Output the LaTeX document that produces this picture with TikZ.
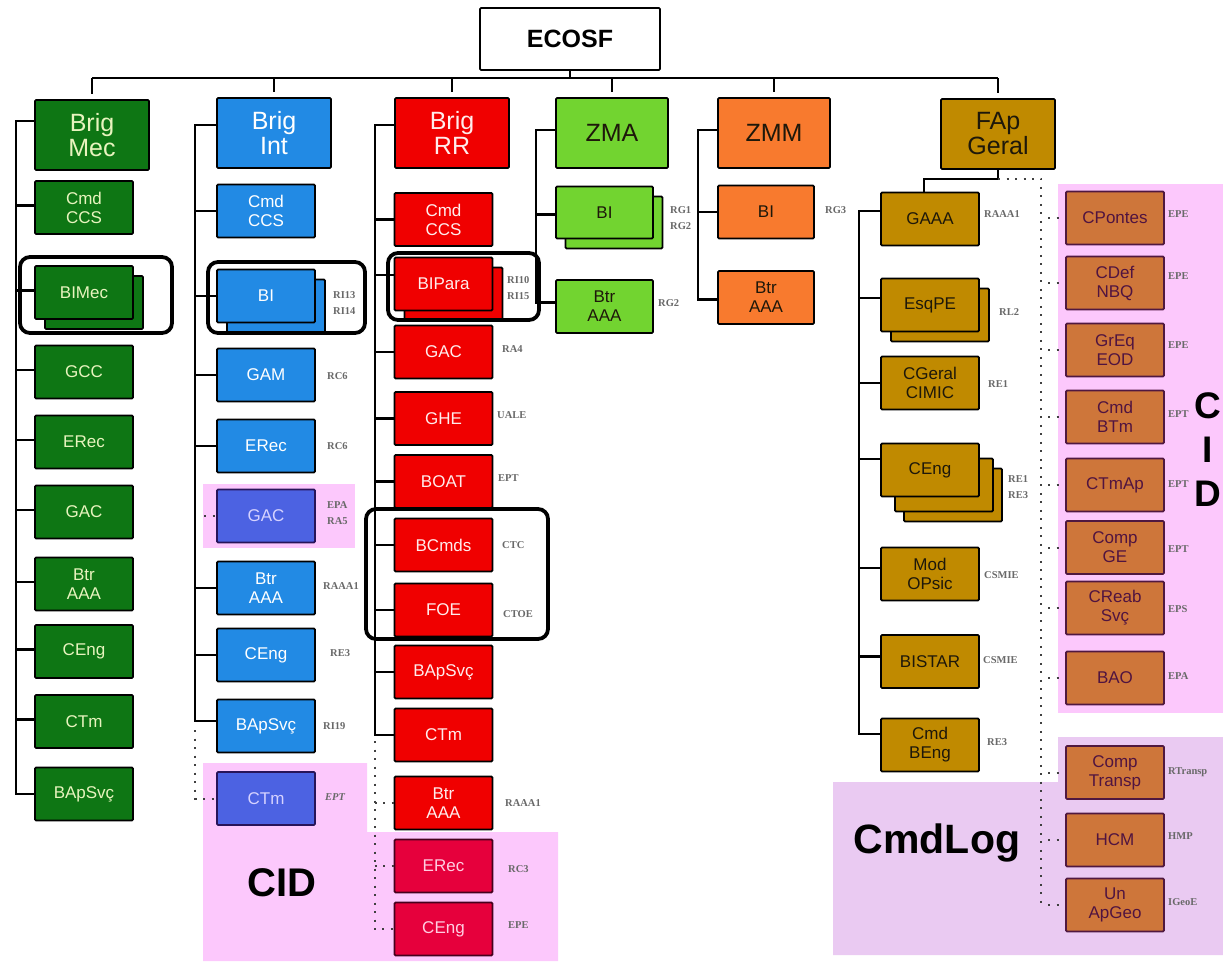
\documentclass[tikz,border=0pt]{standalone}
\usepackage{fontspec}
\setmainfont{Liberation Sans}
\newfontfamily\lblfont{Liberation Serif}
\usetikzlibrary{calc}
\definecolor{cgreen}{RGB}{14,118,20}
\definecolor{cgreentx}{RGB}{232,244,190}
\definecolor{cblue}{RGB}{34,138,228}
\definecolor{cpblue}{RGB}{76,98,226}
\definecolor{cpbluetx}{RGB}{214,210,255}
\definecolor{cpblueln}{RGB}{40,20,90}
\definecolor{cred}{RGB}{240,0,0}
\definecolor{credtx}{RGB}{255,236,236}
\definecolor{ccrim}{RGB}{230,0,60}
\definecolor{ccrimtx}{RGB}{255,205,225}
\definecolor{ccrimln}{RGB}{70,0,30}
\definecolor{clgreen}{RGB}{114,212,48}
\definecolor{corange}{RGB}{248,122,46}
\definecolor{cgold}{RGB}{192,138,0}
\definecolor{cbrown}{RGB}{206,118,58}
\definecolor{cbrownln}{RGB}{80,24,64}
\definecolor{cbrowntx}{RGB}{80,20,64}
\definecolor{cpink}{RGB}{252,200,252}
\definecolor{clav}{RGB}{234,202,242}
\definecolor{labgray}{RGB}{105,105,105}
\definecolor{darktx}{RGB}{30,24,10}
\newcommand\sbx{\fontsize{17}{19}\selectfont}
\newcommand\bbx{\fontsize{25}{25}\selectfont}
\newcommand\lb{\lblfont\bfseries\fontsize{10.5}{16}\selectfont}
\tikzset{
  bx/.style={draw=black, line width=1.8pt, rounded corners=1.2pt, minimum width=98pt, minimum height=53pt, inner sep=0pt, align=center, font=\sbx},
  big/.style={bx, minimum width=114pt, minimum height=70pt, font=\bbx},
  gr/.style={fill=cgreen, text=cgreentx},
  bl/.style={fill=cblue, text=white},
  pb/.style={fill=cpblue, text=cpbluetx, draw=cpblueln},
  rd/.style={fill=cred, text=credtx},
  cr/.style={fill=ccrim, text=ccrimtx, draw=ccrimln},
  lg/.style={fill=clgreen, text=darktx},
  og/.style={fill=corange, text=darktx},
  gd/.style={fill=cgold, text=darktx},
  bw/.style={fill=cbrown, text=cbrowntx, draw=cbrownln},
  conn/.style={draw=black, line width=2.4pt},
  dotline/.style={draw=black!75, line width=2pt, dash pattern=on 2pt off 6.5pt},
  hl/.style={draw=black, line width=3.8pt, rounded corners=10pt},
  lab/.style={anchor=west, inner sep=0pt, font=\lb, text=labgray, align=left},
  bigtx/.style={inner sep=0pt, text=black, align=center}
}
\begin{document}
\begin{tikzpicture}[x=1pt,y=-1pt]
\path[use as bounding box, fill=white] (0,0) rectangle (1223,961);
\clip (0,0) rectangle (1223,961);
% background regions
\fill[cpink] (203,484) rectangle (355,548);
\fill[cpink] (203,763) -- (367,763) -- (367,832) -- (558,832) -- (558,961) -- (203,961) -- cycle;
\fill[cpink] (1058,184) rectangle (1223,713);
\fill[clav] (833,782) -- (1058,782) -- (1058,737) -- (1223,737) -- (1223,955) -- (833,955) -- cycle;
\node[bigtx, font=\fontsize{40}{40}\selectfont\bfseries] (cidA) at (282,883) {CID};
\node[bigtx, font=\fontsize{41}{41}\selectfont\bfseries] (cmdlog) at (937,843) {CmdLog};
\node[bigtx, font=\fontsize{37}{44}\selectfont\bfseries] (cidB) at (1208,450) {C\\I\\D};

% top
\node[bx, fill=white, minimum width=180pt, minimum height=62pt, font=\fontsize{25}{25}\selectfont\bfseries, text=black] (ecosf) at (570,39) {ECOSF};

% column 1
\node[big, gr] (bm) at (92,135) {Brig\\Mec};
\node[bx, gr] (c1cmd) at (84,207.5) {Cmd\\CCS};
\node[bx, gr] (c1biB) at (94,302.5) {};
\node[bx, gr] (c1bi) at (84,292.5) {BIMec};
\node[bx, gr] (c1gcc) at (84,372) {GCC};
\node[bx, gr] (c1erec) at (84,442) {ERec};
\node[bx, gr] (c1gac) at (84,512) {GAC};
\node[bx, gr] (c1btr) at (84,584) {Btr\\AAA};
\node[bx, gr] (c1ceng) at (84,651.5) {CEng};
\node[bx, gr] (c1ctm) at (84,721.5) {CTm};
\node[bx, gr] (c1bap) at (84,794) {BApSvç};

% column 2
\node[big, bl] (bint) at (274,133) {Brig\\Int};
\node[bx, bl] (c2cmd) at (266,211) {Cmd\\CCS};
\node[bx, bl] (c2biB) at (276,306) {};
\node[bx, bl] (c2bi) at (266,296) {BI};
\node[bx, bl] (c2gam) at (266,375) {GAM};
\node[bx, bl] (c2erec) at (266,446) {ERec};
\node[bx, pb] (c2gac) at (266,516) {GAC};
\node[bx, bl] (c2btr) at (266,588) {Btr\\AAA};
\node[bx, bl] (c2ceng) at (266,655) {CEng};
\node[bx, bl] (c2bap) at (266,726) {BApSvç};
\node[bx, pb] (c2ctm) at (266,798.5) {CTm};
\node[lab] (l1) at (333,303) {RI13\\RI14};
\node[lab] (l2) at (327,376) {RC6};
\node[lab] (l3) at (327,446) {RC6};
\node[lab] (l4) at (327,513) {EPA\\RA5};
\node[lab] (l5) at (323,586) {RAAA1};
\node[lab] (l6) at (330,653) {RE3};
\node[lab] (l7) at (323,726) {RI19};
\node[lab] (l8) at (325,797) {\itshape EPT};

% column 3
\node[big, rd] (brr) at (452,133) {Brig\\RR};
\node[bx, rd] (c3cmd) at (443.5,219.5) {Cmd\\CCS};
\node[bx, rd] (c3biB) at (453.5,294) {};
\node[bx, rd] (c3bi) at (443.5,284) {BIPara};
\node[bx, rd] (c3gac) at (443.5,352) {GAC};
\node[bx, rd] (c3ghe) at (443.5,418.5) {GHE};
\node[bx, rd] (c3boat) at (443.5,481.5) {BOAT};
\node[bx, rd] (c3bcmds) at (443.5,545) {BCmds};
\node[bx, rd] (c3foe) at (443.5,610) {FOE};
\node[bx, rd] (c3bap) at (443.5,672) {BApSvç};
\node[bx, rd] (c3ctm) at (443.5,735) {CTm};
\node[bx, rd] (c3btr) at (443.5,803) {Btr\\AAA};
\node[bx, cr] (c3erec) at (443.5,866) {ERec};
\node[bx, cr] (c3ceng) at (443.5,929) {CEng};
\node[lab] (l9) at (507,288) {RI10\\RI15};
\node[lab] (l10) at (502,349) {RA4};
\node[lab] (l11) at (497,415) {UALE};
\node[lab] (l12) at (498,478) {EPT};
\node[lab] (l13) at (502,545) {CTC};
\node[lab] (l14) at (503,614) {CTOE};
\node[lab] (l15) at (505,803) {RAAA1};
\node[lab] (l16) at (508,869) {RC3};
\node[lab] (l17) at (508,925) {EPE};

% column 4
\node[big, lg, minimum width=112pt] (zma) at (612,133) {ZMA};
\node[bx, lg, minimum width=97pt, minimum height=52pt] (c4biB) at (614,222.5) {};
\node[bx, lg, minimum width=97pt, minimum height=52pt] (c4bi) at (604.5,212.5) {BI};
\node[bx, lg, minimum width=97pt] (c4btr) at (604.5,306.5) {Btr\\AAA};
\node[lab] (l18) at (670,218) {RG1\\RG2};
\node[lab] (l19) at (658,303) {RG2};

% column 5
\node[big, og, minimum width=112pt] (zmm) at (774,133) {ZMM};
\node[bx, og, minimum width=96pt] (c5bi) at (766,212) {BI};
\node[bx, og, minimum width=96pt] (c5btr) at (766,297.5) {Btr\\AAA};
\node[lab] (l20) at (825,210) {RG3};

% column 6
\node[big, gd] (fap) at (998,134) {FAp\\Geral};
\node[bx, gd] (c6gaaa) at (930,219) {GAAA};
\node[bx, gd] (c6esqB) at (940,315) {};
\node[bx, gd] (c6esq) at (930,305) {EsqPE};
\node[bx, gd] (c6cger) at (930,383) {CGeral\\CIMIC};
\node[bx, gd] (c6cengC) at (953,495) {};
\node[bx, gd] (c6cengB) at (944,485) {};
\node[bx, gd] (c6ceng) at (930,470) {CEng};
\node[bx, gd] (c6mod) at (930,574) {Mod\\OPsic};
\node[bx, gd] (c6bist) at (930,661.5) {BISTAR};
\node[bx, gd] (c6beng) at (930,745) {Cmd\\BEng};
\node[lab] (l21) at (984,214) {RAAA1};
\node[lab] (l22) at (999,312) {RL2};
\node[lab] (l23) at (988,384) {RE1};
\node[lab] (l24) at (1008,487) {RE1\\RE3};
\node[lab] (l25) at (984,575) {CSMIE};
\node[lab] (l26) at (983,660) {CSMIE};
\node[lab] (l27) at (987,742) {RE3};

% right column
\node[bx, bw] (r1) at (1115,218) {CPontes};
\node[bx, bw] (r2) at (1115,283) {CDef\\NBQ};
\node[bx, bw] (r3) at (1115,350) {GrEq\\EOD};
\node[bx, bw] (r4) at (1115,417) {Cmd\\BTm};
\node[bx, bw] (r5) at (1115,485) {CTmAp};
\node[bx, bw] (r6) at (1115,547.5) {Comp\\GE};
\node[bx, bw] (r7) at (1115,608) {CReab\\Svç};
\node[bx, bw] (r8) at (1115,678) {BAO};
\node[bx, bw] (r9) at (1115,772.5) {Comp\\Transp};
\node[bx, bw] (r10) at (1115,840) {HCM};
\node[bx, bw] (r11) at (1115,905) {Un\\ApGeo};
\node[lab] (l28) at (1168,214) {EPE};
\node[lab] (l29) at (1168,276) {EPE};
\node[lab] (l30) at (1168,345) {EPE};
\node[lab] (l31) at (1168,414) {EPT};
\node[lab] (l32) at (1168,484) {EPT};
\node[lab] (l33) at (1168,549) {EPT};
\node[lab] (l34) at (1168,609) {EPS};
\node[lab] (l35) at (1168,676) {EPA};
\node[lab] (l36) at (1168,772) {RTransp};
\node[lab] (l37) at (1168,836) {HMP};
\node[lab] (l38) at (1168,902) {IGeoE};

% top bus
\coordinate (busy) at (0,78);
\draw[conn] (ecosf.south) -- (ecosf.south |- busy);
\draw[conn] (bm.north |- busy) -- (fap.north |- busy);
\foreach \n in {bm,bint,brr,zma,zmm,fap} \draw[conn] (\n.north |- busy) -- ([yshift=5pt]\n.north);

% column 1 connectors
\draw[conn] ([yshift=14pt]bm.west) -- ++(-18,0) |- (c1bap.west);
\foreach \n in {c1cmd,c1bi,c1gcc,c1erec,c1gac,c1btr,c1ceng,c1ctm} \draw[conn] ([yshift=2pt]\n.west) -- ++(-18,0);

% column 2 connectors
\draw[conn] ([yshift=8pt]bint.west) -- ++(-21,0) |- ([yshift=5pt]c2bap.west);
\foreach \n in {c2cmd,c2bi,c2gam,c2erec,c2btr,c2ceng} \draw[conn] (\n.west) -- ++(-21,0);
\draw[dotline] ([xshift=-21pt,yshift=-4pt]c2bap.west) |- (c2ctm.west);
\draw[dotline] ([xshift=-12pt]c2gac.west) -- (c2gac.west);

% column 3 connectors
\draw[conn] ([yshift=8pt]brr.west) -- ++(-19,0) |- (c3ctm.west);
\draw[conn] ([yshift=9pt]c3bi.west) -- ++(-19,0);
\foreach \n in {c3cmd,c3gac,c3ghe,c3boat,c3bcmds,c3foe,c3bap} \draw[conn] (\n.west) -- ++(-19,0);
\draw[dotline] ([xshift=-19pt,yshift=-6pt]c3ctm.west) |- (c3ceng.west);
\foreach \n in {c3btr,c3erec} \draw[dotline] ([xshift=-19pt]\n.west) -- (\n.west);

% column 4 connectors
\draw[conn] ([yshift=3pt]zma.west) -- ++(-19,0) |- ([yshift=4pt]c4btr.west);
\draw[conn] ([yshift=-2pt]c4bi.west) -- ++(-19,0);

% column 5 connectors
\draw[conn] ([yshift=3pt]zmm.west) -- ++(-19,0) |- ([yshift=-2pt]c5btr.west);
\draw[conn] (c5bi.west) -- ++(-19,0);

% column 6 connectors
\coordinate (fapj) at ($(fap.south)+(0,9)$);
\draw[conn] (fap.south) -- (fapj) -| ([xshift=-6pt]c6gaaa.north);
\draw[dotline] (fapj) -| ([xshift=-24pt]r11.west);
\foreach \n in {r1,r2,r3,r4,r5,r6,r7,r8,r9,r10,r11} \draw[dotline] ([xshift=-17pt]\n.west) -- ([xshift=-6pt]\n.west);
\draw[conn] ([yshift=8pt]c6gaaa.west) -- ++(-21,0) |- ([yshift=11pt]c6beng.west);
\draw[conn] ([yshift=7pt]c6esq.west) -- ++(-21,0);
\draw[conn] (c6cger.west) -- ++(-21,0);
\draw[conn] ([yshift=11pt]c6ceng.west) -- ++(-21,0);
\draw[conn] ([yshift=6pt]c6mod.west) -- ++(-21,0);
\draw[conn] ([yshift=5pt]c6bist.west) -- ++(-21,0);

% highlight frames
\draw[hl] (20,257) rectangle (172,333);
\draw[hl] (208,262) rectangle (365,333);
\draw[hl] (388,253) rectangle (539,320);
\draw[hl] (366,509) rectangle (548,639);
\end{tikzpicture}
\end{document}
